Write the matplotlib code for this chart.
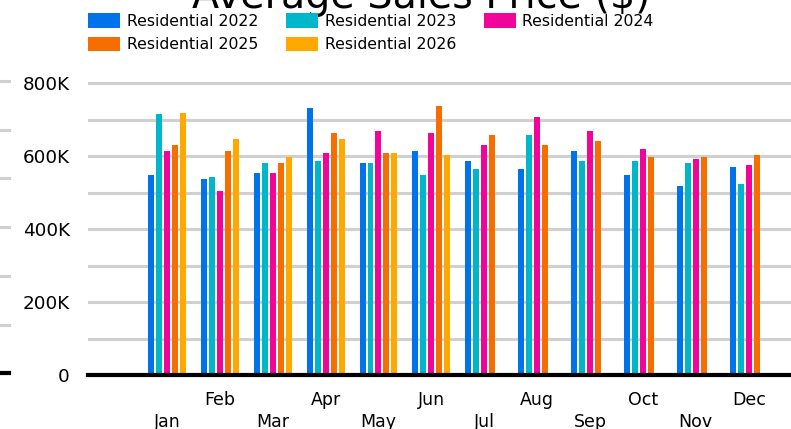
import numpy as np
import matplotlib
matplotlib.use("Agg")
import matplotlib.pyplot as plt
from matplotlib.patches import Patch
from matplotlib.ticker import MultipleLocator, FuncFormatter

months = ["Jan", "Feb", "Mar", "Apr", "May", "Jun", "Jul", "Aug", "Sep", "Oct", "Nov", "Dec"]
series_names = ["Residential 2022", "Residential 2023", "Residential 2024",
                "Residential 2025", "Residential 2026"]
res_2022 = [548, 537, 553, 732, 581, 615, 587, 565, 615, 548, 520, 570]
res_2023 = [715, 542, 581, 587, 581, 548, 565, 658, 587, 587, 581, 525]
res_2024 = [615, 504, 553, 609, 668, 663, 631, 709, 668, 620, 592, 576]
res_2025 = [630, 615, 581, 663, 609, 737, 658, 631, 642, 598, 598, 604]
res_2026 = [720, 647, 598, 647, 609, 604, None, None, None, None, None, None]
colors = ["#0073EA", "#00B6CB", "#F0049A", "#F76E00", "#FFA800"]
title = "Average Sales Price ($)"

W, H = 791, 429
fig = plt.figure(figsize=(W / 100, H / 100), dpi=100)

px100k = 36.5
zero_y = 375.3
ymax = 850000
ax_h = (ymax / 100000) * px100k
ax = fig.add_axes([88 / W, (H - zero_y) / H, 1 - 88 / W, ax_h / H])

slot = 8 / 52.9
barw = 6 / 52.9
x = np.arange(len(months))
all_series = [res_2022, res_2023, res_2024, res_2025, res_2026]
for i, (vals, c) in enumerate(zip(all_series, colors)):
    v = np.array([np.nan if a is None else a * 1000 for a in vals], dtype=float)
    ax.bar(x + (i - 2) * slot, v, width=barw, color=c, zorder=3, linewidth=0)

ax.set_xlim(-1.493, 11.80)
ax.set_ylim(0, ymax)
ax.yaxis.set_major_locator(MultipleLocator(200000))
ax.yaxis.set_minor_locator(MultipleLocator(100000))
ax.yaxis.set_major_formatter(FuncFormatter(lambda v, p: "0" if v == 0 else f"{int(v/1000)}K"))
ax.grid(True, axis="y", which="both", color="#d0d0d0", linewidth=2.2, zorder=0)
ax.tick_params(axis="y", which="both", length=0, pad=13, labelsize=13.2, colors="#000000")
for s in ["top", "right", "left"]:
    ax.spines[s].set_visible(False)
ax.spines["bottom"].set_linewidth(3)
ax.spines["bottom"].set_color("black")
ax.spines["bottom"].set_zorder(5)

odd = x[1::2]
even = x[0::2]
ax.set_xticks(odd)
ax.set_xticklabels([months[i] for i in odd])
ax.set_xticks(even, minor=True)
ax.set_xticklabels([months[i] for i in even], minor=True)
ax.tick_params(axis="x", which="major", length=0, pad=11, labelsize=12.5)
ax.tick_params(axis="x", which="minor", length=0, pad=27, labelsize=12.5)
ax.grid(False, axis="x", which="both")

# left-edge marks
top_mark = 81
lax = fig.add_axes([0, (H - 373.3) / H, 9 / W, (373.3 - top_mark) / H])
lax.set_xlim(0, 1)
lax.set_ylim(0, 6)
for k in range(1, 7):
    lax.axhline(k, color="#d0d0d0", linewidth=2.2, clip_on=False)
lax.axhline(0, color="black", linewidth=3, clip_on=False)
lax.axis("off")

fig.text(421 / W, 1 - 8 / H, title, ha="center", va="baseline", fontsize=28.5)

handles = [Patch(facecolor=c, edgecolor="none", label=n) for c, n in zip(colors, series_names)]
# legend fills column-first; reorder so rows read 2022, 2023, 2024 / 2025, 2026
order = [0, 3, 1, 4, 2]
fig.legend(handles=[handles[k] for k in order], ncol=3, loc="upper left",
           bbox_to_anchor=(88 / W, 1 - 13 / H),
           frameon=False, fontsize=11.3, handlelength=2.04, handleheight=1.07,
           handletextpad=0.43, columnspacing=1.76, labelspacing=0.5,
           borderpad=0, borderaxespad=0)

fig.savefig("out.png", dpi=100)
